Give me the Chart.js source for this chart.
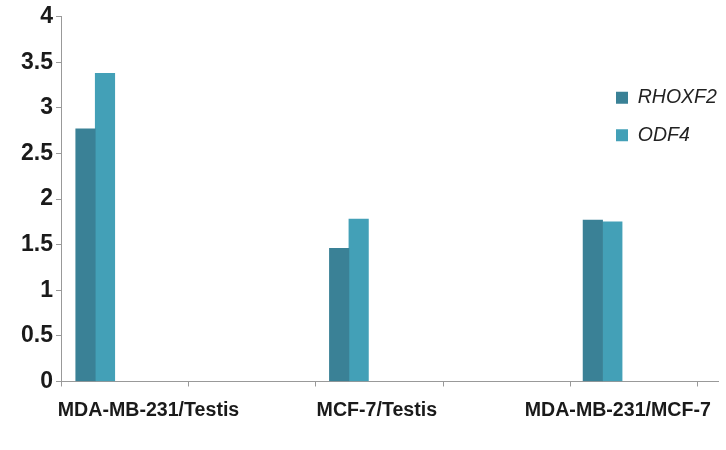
<!DOCTYPE html>
<html>
<head>
<meta charset="utf-8">
<script src="https://cdn.jsdelivr.net/npm/chart.js@4/dist/chart.umd.min.js"></script>
<style>
  html, body { margin: 0; padding: 0; background: #fff; }
  #wrap { width: 726px; height: 450px; }
</style>
</head>
<body>
<div id="wrap"><canvas id="chart"></canvas></div>
<script>
// values
var categories = ['MDA-MB-231/Testis', 'MCF-7/Testis', 'MDA-MB-231/MCF-7'];
var rhoxf2 = [2.77, 1.46, 1.77];
var odf4 = [3.38, 1.78, 1.75];
var yTicks = [0, 0.5, 1, 1.5, 2, 2.5, 3, 3.5, 4];

// where the category names sit on the x axis (group units)
var labelPos = [0.21, 1.11, 2.06];
var xMin = -0.135, xMax = 2.455, markStep = 0.502;

function points(arr) {
    return arr.map(function (v, i) { return { x: i, y: v }; });
}

// put the legend inside the plot, upper right
var legendSpot = {
    id: 'legendSpot',
    afterLayout: function (chart) {
        var lg = chart.legend;
        if (!lg) return;
        var w = lg.width, h = lg.height;
        lg.left = 598; lg.top = 70;
        lg.right = lg.left + w; lg.bottom = lg.top + h;
    }
};

new Chart(document.getElementById('chart'), {
    type: 'bar',
    data: {
        datasets: [
            {
                label: 'RHOXF2',
                backgroundColor: '#3a8196',
                data: points(rhoxf2),
            },
            {
                label: 'ODF4',
                backgroundColor: '#43a0b7',
                data: points(odf4),
            },
        ],
    },
    options: {
        responsive: true,
        maintainAspectRatio: false,
        animation: false,
        barThickness: 19.5,
        layout: { padding: { top: 15, right: 8, bottom: 16, left: 0 } },
        plugins: {
            tooltip: { enabled: false },
            legend: {
                position: 'chartArea',
                align: 'start',
                labels: {
                    boxWidth: 12,
                    boxHeight: 12,
                    padding: 18,
                    color: '#222',
                    font: { family: 'Liberation Sans', size: 19.5, style: 'italic' },
                },
            },
        },
        scales: {
            x: {
                type: 'linear',
                min: xMin,
                max: xMax,
                offset: false,
                grid: {
                    offset: false,
                    drawOnChartArea: false,
                    tickLength: 5,
                    tickColor: function (ctx) {
                        return ctx.tick && ctx.tick.mark ? '#999' : 'rgba(0,0,0,0)';
                    },
                },
                border: { color: '#999', width: 1 },
                afterBuildTicks: function (axis) {
                    var t = [];
                    for (var k = 0; k < 6; k++) t.push({ value: xMin + markStep * k, mark: true });
                    labelPos.forEach(function (v, i) { t.push({ value: v, cat: categories[i] }); });
                    t.sort(function (a, b) { return a.value - b.value; });
                    axis.ticks = t;
                },
                ticks: {
                    autoSkip: false,
                    maxRotation: 0,
                    padding: 12,
                    color: '#1a1a1a',
                    font: { family: 'Liberation Sans', size: 19.6, weight: 'bold' },
                    callback: function (value, index, ticks) {
                        return ticks[index].cat || '';
                    },
                },
            },
            y: {
                min: 0,
                max: 4,
                afterFit: function (axis) { axis.width = 61; },
                afterBuildTicks: function (axis) {
                    axis.ticks = yTicks.map(function (v) { return { value: v }; });
                },
                grid: { drawOnChartArea: false, tickLength: 5, tickColor: '#999' },
                border: { color: '#999', width: 1 },
                ticks: {
                    padding: 3,
                    color: '#1a1a1a',
                    font: { family: 'Liberation Sans', size: 23, weight: 'bold' },
                    callback: function (value) { return String(value); },
                },
            },
        },
    },
    plugins: [legendSpot],
});
</script>
</body>
</html>
